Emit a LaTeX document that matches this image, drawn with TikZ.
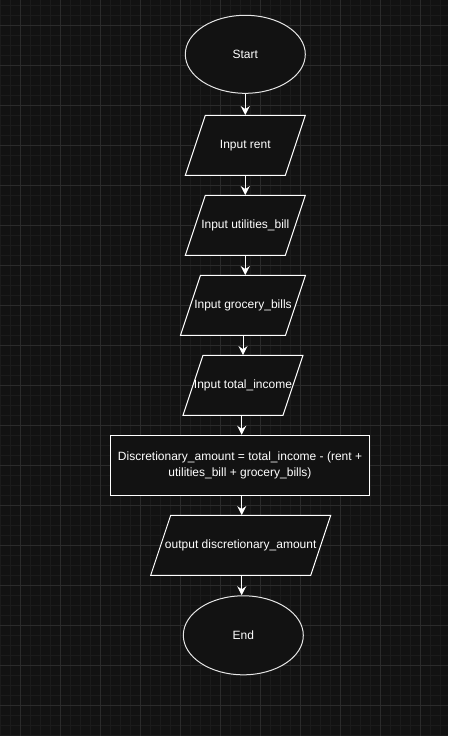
\documentclass[tikz,border=0pt]{standalone}
\usepackage{fontspec}
\setmainfont{Liberation Sans}
\usetikzlibrary{shapes.geometric,arrows.meta,calc}
\definecolor{bg}{HTML}{121212}
\definecolor{minorgrid}{HTML}{1B1B1B}
\definecolor{majorgrid}{HTML}{2B2B2B}
\definecolor{ellline}{HTML}{E6E6E6}
\newcommand\ParaBox[5]{%
  \draw[shapeline] ({#2-#4/2+20},{#3-30}) -- ({#2+#4/2},{#3-30}) -- ({#2+#4/2-20},{#3+30}) -- ({#2-#4/2},{#3+30}) -- cycle;
  \node[txt, minimum width=#4, minimum height=60] (#1) at (#2,#3) {#5};
}
\begin{document}
\begin{tikzpicture}[x=1pt,y=-1pt,
  txt/.style={inner sep=0pt, text=white, font=\fontsize{12}{15.5}\selectfont, align=center},
  shapeline/.style={draw=white, line width=1pt, fill=bg},
  term/.style={ellipse, draw=ellline, line width=1pt, fill=bg, inner sep=0pt, minimum width=120, minimum height=78, text=white, font=\fontsize{12}{15.5}\selectfont},
  procbox/.style={rectangle, draw=white, line width=1pt, fill=bg, inner sep=0pt, text=white, font=\fontsize{12}{15.5}\selectfont, align=center},
  arr/.style={draw=white, line width=1pt, -{Stealth[length=9pt,width=9pt,inset=3pt]}}]
\fill[bg] (0,0) rectangle (448,736);
\useasboundingbox (0,0) rectangle (448,736);
\foreach \x in {0,10,...,440} \draw[minorgrid, line width=1pt] (\x,0) -- (\x,736);
\foreach \y in {5,15,...,735} \draw[minorgrid, line width=1pt] (0,\y) -- (448,\y);
\foreach \x in {20,60,...,420} \draw[majorgrid, line width=1pt] (\x,0) -- (\x,736);
\foreach \y in {25,65,...,705} \draw[majorgrid, line width=1pt] (0,\y) -- (448,\y);

\node[term] (start) at (245.3,54.3) {Start};
\ParaBox{rent}{245.3}{145.3}{120}{Input rent}
\ParaBox{util}{245.3}{225.3}{120}{Input utilities\_bill}
\ParaBox{groc}{243}{305.3}{125}{Input grocery\_bills}
\ParaBox{total}{243}{385.3}{120}{Input total\_income}
\node[procbox, minimum width=258.6, minimum height=60] (disc) at (240,465.3)
  {Discretionary\_amount = total\_income - (rent +\\utilities\_bill + grocery\_bills)};
\ParaBox{out}{240.7}{545.3}{180}{output discretionary\_amount}
\node[term, minimum height=79] (end) at (243.3,635.3) {End};

\draw[arr] (start.south) -- (start.south |- rent.north);
\draw[arr] (rent.south) -- (rent.south |- util.north);
\draw[arr] (util.south) -- (util.south |- groc.north);
\draw[arr] (groc.south) -- (groc.south |- total.north);
\draw[arr] ($(total.south)+(-1.3,0)$) -- ($(total.south |- disc.north)+(-1.3,0)$);
\draw[arr] ($(disc.south)+(1.7,0)$) -- ($(disc.south |- out.north)+(1.7,0)$);
\draw[arr] ($(out.south)+(1,0)$) -- ($(out.south |- end.north)+(1,0)$);
\end{tikzpicture}
\end{document}
